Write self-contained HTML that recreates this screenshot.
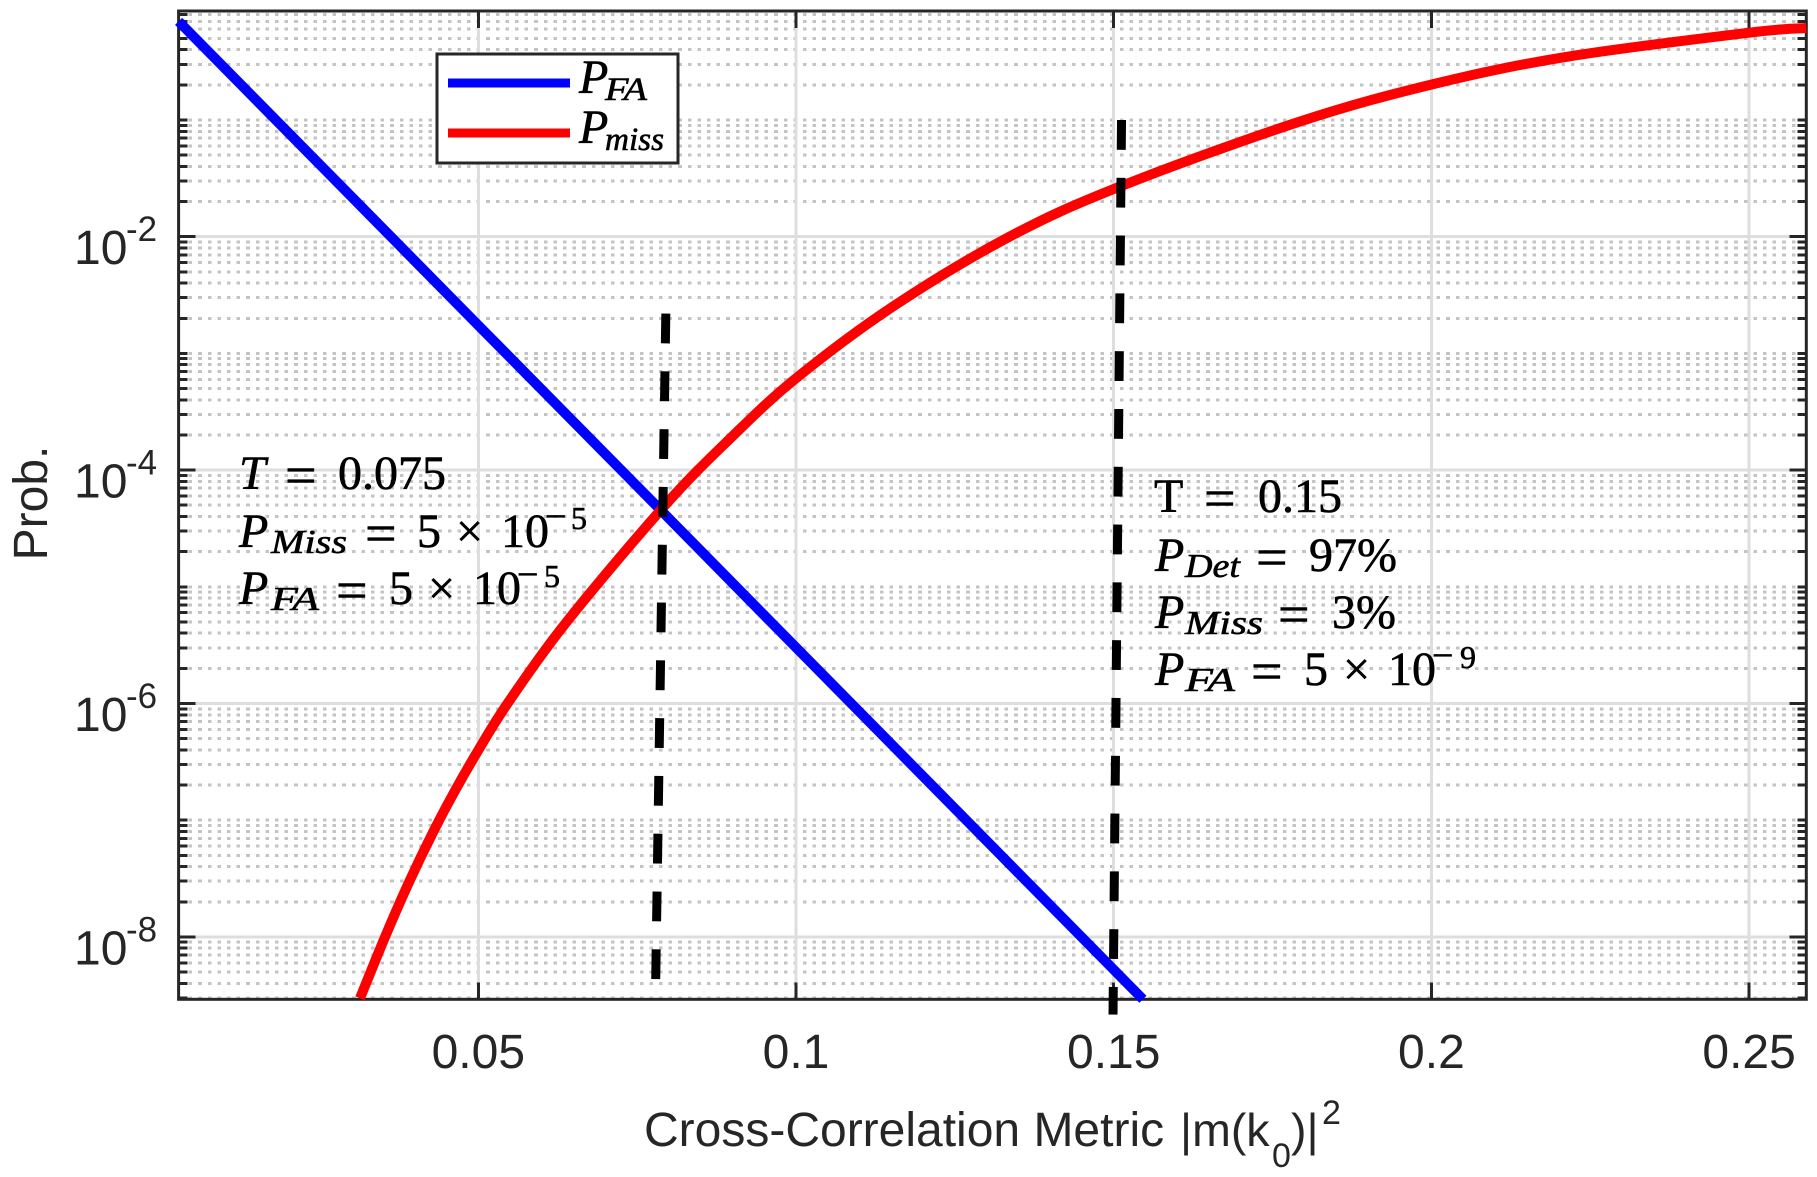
<!DOCTYPE html>
<html lang="en">
<head>
<meta charset="utf-8">
<title>Probability versus cross-correlation metric</title>
<style>
html,body{margin:0;padding:0;background:#fff;width:1817px;height:1177px;overflow:hidden}
svg{display:block}
.sans{font-family:"Liberation Sans",sans-serif;fill:#262626}
.math{font-family:"Liberation Serif",serif;fill:#000;font-size:48px;stroke:#000;stroke-width:.6px}
.it{font-style:italic}
.eq{font-size:56px}
.mn{font-size:38px}
.ex{font-size:32px}
#grid line,#ticks line{shape-rendering:crispEdges}
</style>
</head>
<body>
<svg id="chart" xmlns="http://www.w3.org/2000/svg" width="1817" height="1177" viewBox="0 0 1817 1177">
  <rect x="0" y="0" width="1817" height="1177" fill="#fff"/>
  <g id="grid"></g>
  <g id="ticks"></g>
  <rect x="178.6" y="11" width="1627.7" height="988.3" fill="none" stroke="#262626" stroke-width="3"/>
  <g id="labels"></g>
  <g id="series"></g>

  <text class="sans" x="644" y="1146" font-size="48">Cross-Correlation Metric <tspan x="1180" font-size="46.5">|m(k</tspan><tspan x="1272" y="1167" font-size="34">0</tspan><tspan x="1291" y="1146" font-size="46.5">)|</tspan><tspan x="1322" y="1124" font-size="34">2</tspan></text>
  <text class="sans" transform="translate(47,503) rotate(-90)" text-anchor="middle" font-size="48">Prob.</text>

  <g>
    <rect x="437" y="54" width="241" height="109" fill="#fff" stroke="#262626" stroke-width="3"/>
    <line x1="448" y1="83" x2="570" y2="83" stroke="#0000ff" stroke-width="9"/>
    <line x1="448" y1="133" x2="570" y2="133" stroke="#ff0000" stroke-width="9"/>
    <text class="math" y="93"><tspan class="it" x="579">P</tspan><tspan class="it" x="605" y="100" font-size="33" textLength="42" lengthAdjust="spacingAndGlyphs">FA</tspan></text>
    <text class="math" y="143"><tspan class="it" x="579">P</tspan><tspan class="it" x="605" y="150" font-size="33" textLength="59" lengthAdjust="spacingAndGlyphs">miss</tspan></text>
  </g>

  <g>
    <text class="math" y="489"><tspan class="it" x="239">T</tspan><tspan class="eq" x="285" y="494">=</tspan><tspan x="338" y="489">0.075</tspan></text>
    <text class="math" y="547"><tspan class="it" x="239">P</tspan><tspan class="it" x="271" y="553" font-size="34" textLength="76" lengthAdjust="spacingAndGlyphs">Miss</tspan><tspan class="eq" x="365" y="552">=</tspan><tspan x="417" y="547">5</tspan><tspan x="456">×</tspan><tspan x="501">10</tspan><tspan class="mn" x="545" y="529">−</tspan><tspan class="ex" x="571">5</tspan></text>
    <text class="math" y="604"><tspan class="it" x="239">P</tspan><tspan class="it" x="271" y="610" font-size="34" textLength="48" lengthAdjust="spacingAndGlyphs">FA</tspan><tspan class="eq" x="336" y="609">=</tspan><tspan x="389" y="604">5</tspan><tspan x="428">×</tspan><tspan x="473">10</tspan><tspan class="mn" x="517" y="587">−</tspan><tspan class="ex" x="544">5</tspan></text>
  </g>

  <g>
    <text class="math" y="512"><tspan x="1154">T</tspan><tspan class="eq" x="1204" y="517">=</tspan><tspan x="1258" y="512">0.15</tspan></text>
    <text class="math" y="571"><tspan class="it" x="1155">P</tspan><tspan class="it" x="1185" y="577" font-size="34" textLength="55" lengthAdjust="spacingAndGlyphs">Det</tspan><tspan class="eq" x="1256" y="576">=</tspan><tspan x="1309" y="571">97%</tspan></text>
    <text class="math" y="628"><tspan class="it" x="1155">P</tspan><tspan class="it" x="1185" y="634" font-size="34" textLength="78" lengthAdjust="spacingAndGlyphs">Miss</tspan><tspan class="eq" x="1278" y="633">=</tspan><tspan x="1332" y="628">3%</tspan></text>
    <text class="math" y="685"><tspan class="it" x="1155">P</tspan><tspan class="it" x="1185" y="691" font-size="34" textLength="50" lengthAdjust="spacingAndGlyphs">FA</tspan><tspan class="eq" x="1251" y="690">=</tspan><tspan x="1304" y="685">5</tspan><tspan x="1343">×</tspan><tspan x="1388">10</tspan><tspan class="mn" x="1432" y="668">−</tspan><tspan class="ex" x="1460">9</tspan></text>
  </g>
</svg>

<script>
// Chart data
const xTicks = [0.05, 0.1, 0.15, 0.2, 0.25];
const xTickLabels = ['0.05', '0.1', '0.15', '0.2', '0.25'];
const yMajorExponents = [-2, -4, -6, -8];
const yTickExponentLabels = ['-2', '-4', '-6', '-8'];
const xLimits = [0.00283, 0.259];
const yLimits = [2.92e-9, 0.859];

const pFaX = [0.00283, 0.05, 0.0785, 0.1, 0.1546];
const pFaValues = [0.70, 1.74e-3, 4.66e-5, 3.02e-6, 2.92e-9];

const pMissX = [0.03138, 0.03532, 0.0391, 0.0429, 0.0465, 0.05, 0.0547, 0.0639, 0.0794, 0.09, 0.1, 0.1152, 0.1336, 0.1509, 0.1792, 0.2003, 0.2213, 0.25, 0.259];
const pMissValues = [2.98e-9, 1e-8, 2.95e-8, 7.94e-8, 1.86e-7, 3.98e-7, 1.02e-6, 5.01e-6, 5.01e-5, 1.95e-4, 6.12e-4, 2.51e-3, 1e-2, 2.68e-2, 9.66e-2, 0.203, 0.348, 0.56, 0.614];

const thresholdLowX = [0.07792, 0.07951];
const thresholdLowY = [4.35e-9, 2.2e-3];
const thresholdHighX = [0.15123, 0.14989];
const thresholdHighY = [0.1, 2.16e-9];

// Axis functions
const plotLeft = 178.6, plotRight = 1806.3, plotTop = 11, plotBottom = 999.3;
function xPos(v) {
  return plotLeft + (v - xLimits[0]) / (xLimits[1] - xLimits[0]) * (plotRight - plotLeft);
}
function yPos(v) {
  const a = Math.log10(yLimits[1]), b = Math.log10(yLimits[0]);
  return plotTop + (a - Math.log10(v)) / (a - b) * (plotBottom - plotTop);
}

const NS = 'http://www.w3.org/2000/svg';
function make(tag, parent, attrs) {
  const el = document.createElementNS(NS, tag);
  for (const k in attrs) el.setAttribute(k, attrs[k]);
  parent.appendChild(el);
  return el;
}

function smoothPath(pts) {
  let d = 'M' + pts[0][0].toFixed(2) + ' ' + pts[0][1].toFixed(2);
  for (let i = 0; i < pts.length - 1; i++) {
    const p0 = pts[Math.max(i - 1, 0)], p1 = pts[i], p2 = pts[i + 1], p3 = pts[Math.min(i + 2, pts.length - 1)];
    const c1x = p1[0] + (p2[0] - p0[0]) / 6, c1y = p1[1] + (p2[1] - p0[1]) / 6;
    const c2x = p2[0] - (p3[0] - p1[0]) / 6, c2y = p2[1] - (p3[1] - p1[1]) / 6;
    d += 'C' + c1x.toFixed(2) + ' ' + c1y.toFixed(2) + ' ' + c2x.toFixed(2) + ' ' + c2y.toFixed(2) + ' ' + p2[0].toFixed(2) + ' ' + p2[1].toFixed(2);
  }
  return d;
}

const grid = document.getElementById('grid');
const ticks = document.getElementById('ticks');
const labels = document.getElementById('labels');
const series = document.getElementById('series');
const isMajorExp = (e) => yMajorExponents.indexOf(e) !== -1;

// Horizontal minor grid and minor ticks
for (let e = -9; e <= -1; e++) {
  for (let m = 1; m <= 9; m++) {
    const v = m * Math.pow(10, e);
    if (v < yLimits[0] || v > yLimits[1]) continue;
    if (m === 1 && isMajorExp(e)) continue;
    const y = yPos(v);
    const g = make('line', grid, {x1: plotLeft + 10, y1: y, x2: plotRight - 8, y2: y, stroke: '#c4c4c4', 'stroke-width': 3, 'stroke-dasharray': '3.6 6'});
    
    
    const t1 = make('line', ticks, {x1: plotLeft, y1: y, x2: plotLeft + 9, y2: y, stroke: '#262626', 'stroke-width': 3});
    
    
    const t2 = make('line', ticks, {x1: plotRight - 9, y1: y, x2: plotRight, y2: y, stroke: '#262626', 'stroke-width': 3});
    
    
  }
}

// Vertical major grid, x ticks, x labels
xTicks.forEach(function (v, i) {
  const x = xPos(v);
  const g = make('line', grid, {x1: x, y1: plotTop, x2: x, y2: plotBottom, stroke: '#dedede', 'stroke-width': 3});
  
  
  const t1 = make('line', ticks, {x1: x, y1: plotTop, x2: x, y2: plotTop + 17, stroke: '#262626', 'stroke-width': 3});
  
  
  const t2 = make('line', ticks, {x1: x, y1: plotBottom - 17, x2: x, y2: plotBottom, stroke: '#262626', 'stroke-width': 3});
  
  
  const lab = make('text', labels, {x: x, y: 1068, 'text-anchor': 'middle', 'font-size': 48, class: 'sans'});
  
  
  lab.textContent = xTickLabels[i];
});

// Horizontal major grid, y ticks, y labels
yMajorExponents.forEach(function (e, i) {
  const y = yPos(Math.pow(10, e));
  const g = make('line', grid, {x1: plotLeft, y1: y, x2: plotRight, y2: y, stroke: '#dedede', 'stroke-width': 3});
  
  
  const t1 = make('line', ticks, {x1: plotLeft, y1: y, x2: plotLeft + 17, y2: y, stroke: '#262626', 'stroke-width': 3});
  
  
  const t2 = make('line', ticks, {x1: plotRight - 17, y1: y, x2: plotRight, y2: y, stroke: '#262626', 'stroke-width': 3});
  
  
  const lab = make('text', labels, {x: 74, y: y + 27.5, 'font-size': 48, class: 'sans'});
  
  
  lab.textContent = '10';
  const sup = make('text', labels, {x: 126, y: y + 4.5, 'font-size': 35, class: 'sans'});
  
  
  sup.textContent = yTickExponentLabels[i];
});

// Curves
const pFaPts = pFaX.map(function (x, i) { return [xPos(x), yPos(pFaValues[i])]; });
const pFaPath = make('path', series, {d: smoothPath(pFaPts), fill: 'none', stroke: '#0000ff', 'stroke-width': 10});



const pMissPts = pMissX.map(function (x, i) { return [xPos(x), yPos(pMissValues[i])]; });
const pMissPath = make('path', series, {d: smoothPath(pMissPts), fill: 'none', stroke: '#ff0000', 'stroke-width': 10});



// Dashed threshold markers
const thrLow = make('line', series, {x1: xPos(thresholdLowX[0]), y1: yPos(thresholdLowY[0]), x2: xPos(thresholdLowX[1]), y2: yPos(thresholdLowY[1]), stroke: '#000', 'stroke-width': 9, 'stroke-dasharray': '29.8 28'});



const thrHigh = make('line', series, {x1: xPos(thresholdHighX[0]), y1: yPos(thresholdHighY[0]), x2: xPos(thresholdHighX[1]), y2: yPos(thresholdHighY[1]), stroke: '#000', 'stroke-width': 9, 'stroke-dasharray': '29.8 28'});


</script>
</body>
</html>
